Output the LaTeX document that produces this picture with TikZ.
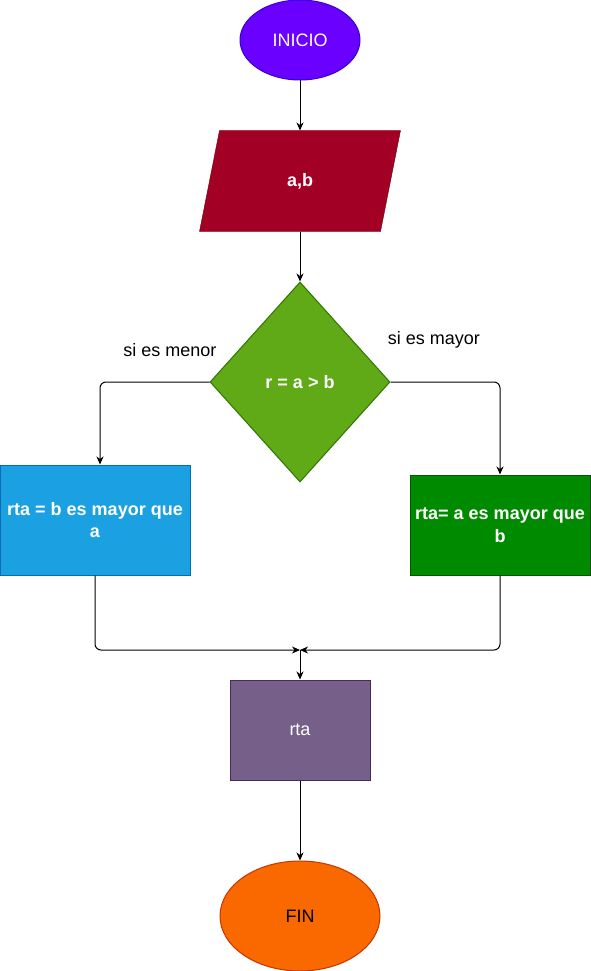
\documentclass[tikz,border=0pt]{standalone}
\usepackage{fontspec}
\setmainfont{Liberation Sans}
\usetikzlibrary{shapes.geometric,arrows.meta,positioning,backgrounds}

\definecolor{inicioFill}{HTML}{6A00FF}
\definecolor{inicioLine}{HTML}{3700CC}
\definecolor{datoFill}{HTML}{A20025}
\definecolor{datoLine}{HTML}{6F0000}
\definecolor{decFill}{HTML}{60A917}
\definecolor{decLine}{HTML}{2D7600}
\definecolor{menorFill}{HTML}{1BA1E2}
\definecolor{menorLine}{HTML}{006EAF}
\definecolor{mayorFill}{HTML}{008A00}
\definecolor{mayorLine}{HTML}{005700}
\definecolor{rtaFill}{HTML}{76608A}
\definecolor{rtaLine}{HTML}{432D57}
\definecolor{finFill}{HTML}{FA6800}
\definecolor{finLine}{HTML}{C73500}

\begin{document}
\begin{tikzpicture}[x=1pt,y=-1pt,->,>={Stealth[length=8pt,width=7pt,inset=2.5pt]},line width=1pt,node distance=50pt,
    every node/.style={font=\fontsize{18}{22.5}\selectfont},
    term node/.style={ellipse,draw,inner sep=0pt},
    io node/.style={rectangle,minimum width=180pt,minimum height=100pt,text=white,font=\fontsize{18}{22.5}\selectfont\bfseries},
    dec node/.style={diamond,draw,minimum width=180pt,minimum height=200pt,inner sep=0pt,text=white,font=\fontsize{18}{22.5}\selectfont\bfseries},
    proc node/.style={rectangle,draw,align=center,text=white}]

    \useasboundingbox (0,0) rectangle (591,971);

    \node[term node,fill=inicioFill,draw=inicioLine,text=white,minimum width=120pt,minimum height=80pt] (inicio) at (300,40) {INICIO};
    \node[io node] (ab) [below=of inicio] {a,b};
    \begin{scope}[on background layer]
        \draw[-,fill=datoFill,draw=datoLine] ([xshift=10pt]ab.north west) -- ([xshift=10pt]ab.north east)
            -- ([xshift=-10pt]ab.south east) -- ([xshift=-10pt]ab.south west) -- cycle;
    \end{scope}
    \node[dec node,fill=decFill,draw=decLine] (dec) [below=of ab] {r = a {>} b};

    \node[proc node,fill=menorFill,draw=menorLine,minimum width=190pt,minimum height=110pt,font=\fontsize{18}{22.5}\selectfont\bfseries] (menor) at (95,520) {rta = b es mayor que\\a};
    \node[proc node,fill=mayorFill,draw=mayorLine,minimum width=180pt,minimum height=100pt,font=\fontsize{18}{22.5}\selectfont\bfseries] (mayor) at (500,525) {rta= a es mayor que\\b};

    \coordinate (junta) at (300,650);
    \node[proc node,fill=rtaFill,draw=rtaLine,minimum width=140pt,minimum height=100pt] (rta) at (300,730) {rta};
    \node[term node,fill=finFill,draw=finLine,minimum width=160pt,minimum height=110pt] (fin) [below=80pt of rta] {FIN};

    \node (lmenor) at (170,350) {si es menor};
    \node (lmayor) at (434,340) {si es mayor};

    \path
        (inicio) edge (ab)
        (ab) edge (dec)
        (junta) edge (rta)
        (rta) edge (fin)
        ;
    \draw[rounded corners=6pt] (dec.west) -| ([xshift=5pt]menor.north);
    \draw[rounded corners=6pt] (dec.east) -| (mayor.north);
    \draw[rounded corners=6pt] (menor.south) |- (junta);
    \draw[rounded corners=6pt] (mayor.south) |- (junta);
\end{tikzpicture}
\end{document}
